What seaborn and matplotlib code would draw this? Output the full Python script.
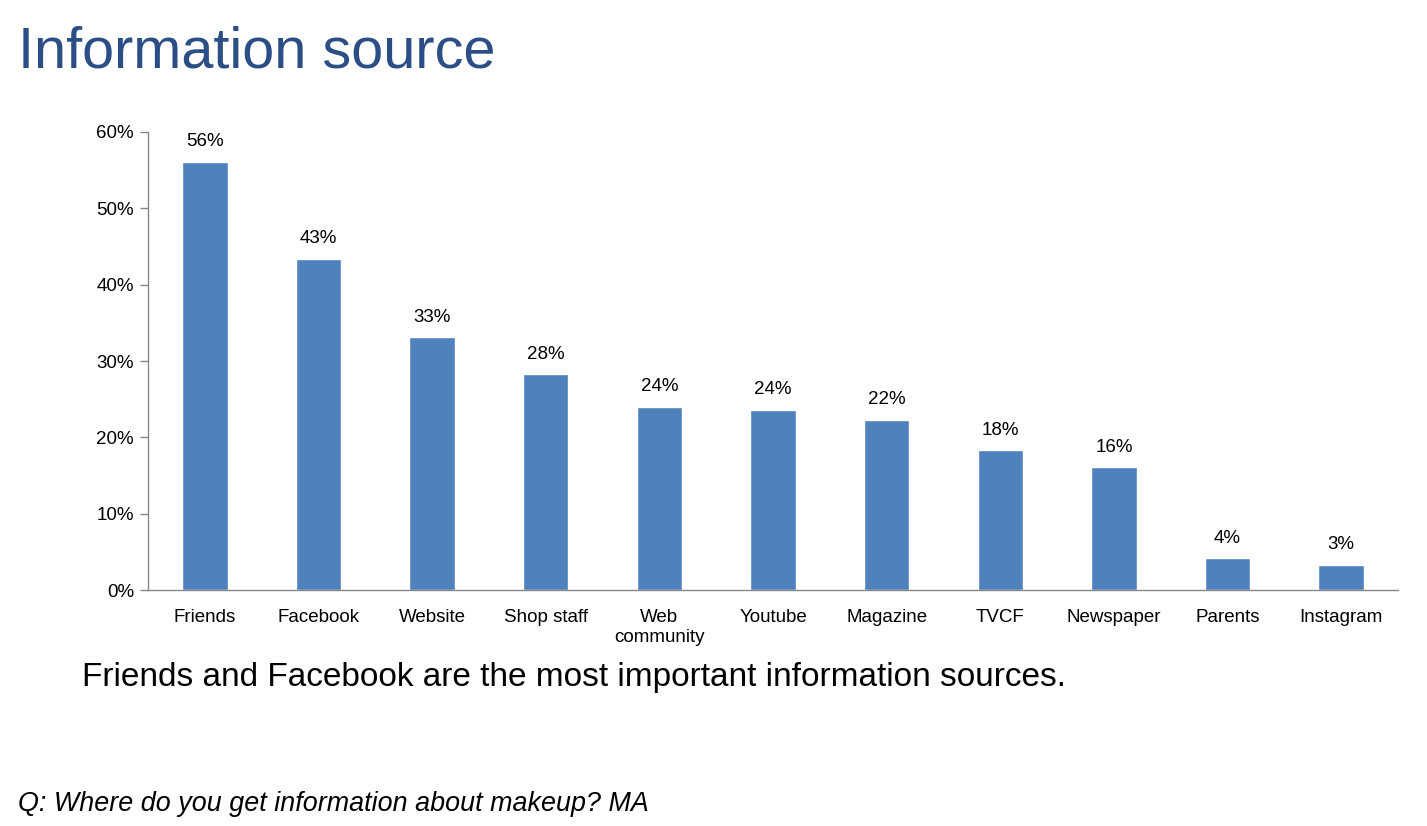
import seaborn as sns
import numpy as np
import pandas as pd
import matplotlib.pyplot as plt
from matplotlib.ticker import PercentFormatter, FixedLocator

# data
sources = ['Friends', 'Facebook', 'Website', 'Shop staff', 'Web\ncommunity', 'Youtube',
           'Magazine', 'TVCF', 'Newspaper', 'Parents', 'Instagram']
share = [56.1, 43.4, 33.1, 28.3, 24.0, 23.6, 22.3, 18.3, 16.1, 4.2, 3.3]
labels = ['56%', '43%', '33%', '28%', '24%', '24%', '22%', '18%', '16%', '4%', '3%']

df = pd.DataFrame({'source': sources, 'share': share})

sns.set_style('white')
plt.rcParams['font.family'] = ['Liberation Sans', 'DejaVu Sans']
plt.rcParams['text.color'] = 'black'
plt.rcParams['xtick.labelcolor'] = 'black'
plt.rcParams['ytick.labelcolor'] = 'black'

fig = plt.figure(figsize=(14.27, 8.26), dpi=100)
ax = fig.add_axes([0.1037, 0.2857, 0.876, 0.5545])

sns.barplot(data=df, x='source', y='share', color='#4F81BD', saturation=1, width=0.4, ax=ax)

for i, (v, t) in enumerate(zip(share, labels)):
    ax.text(i, v + 1.5, t, ha='center', va='bottom', fontsize=13.5, color='black')

ax.set_xlim(-0.5, len(sources) - 0.5)
ax.set_ylim(0, 60)
ax.set_yticks(np.arange(0, 61, 10))
ax.yaxis.set_major_formatter(PercentFormatter(decimals=0))
ax.set_xlabel('')
ax.set_ylabel('')

ax.xaxis.set_minor_locator(FixedLocator(np.arange(-0.5, len(sources), 1)))
ax.tick_params(axis='x', which='major', length=0, labelsize=13.5, pad=14)
ax.tick_params(axis='x', which='minor', length=6, width=1, color='#888888', direction='out')
ax.tick_params(axis='y', left=True, length=6, width=1, color='#888888', labelsize=13.5, pad=4)

for s in ['top', 'right']:
    ax.spines[s].set_visible(False)
for s in ['left', 'bottom']:
    ax.spines[s].set_color('#888888')
    ax.spines[s].set_linewidth(1)

fig.text(0.0126, 0.918, 'Information source', fontsize=41.5, color='#2C4E86', ha='left', va='baseline')
fig.text(0.0575, 0.17, 'Friends and Facebook are the most important information sources.',
         fontsize=24, ha='left', va='baseline')
fig.text(0.0126, 0.018, 'Q: Where do you get information about makeup? MA',
         fontsize=19.4, style='italic', ha='left', va='baseline')

fig.savefig('out.png', dpi=100)
